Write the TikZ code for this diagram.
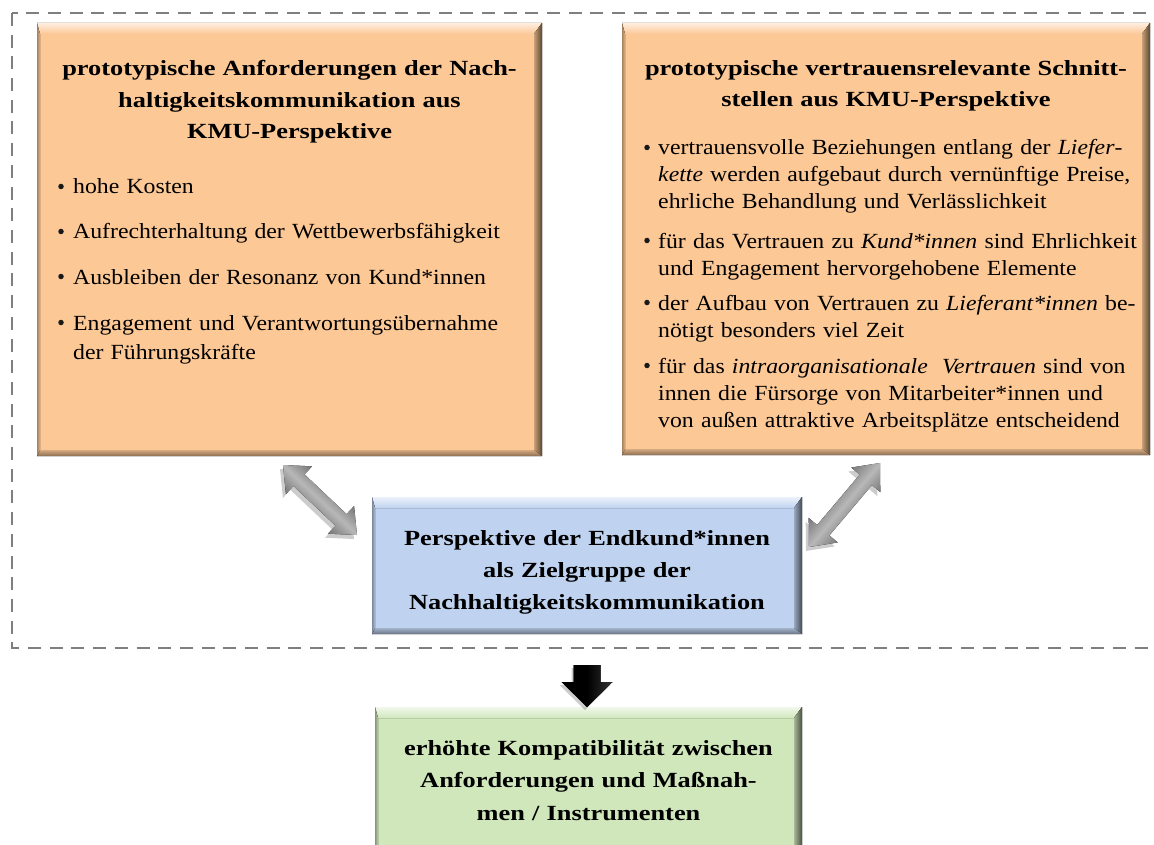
\documentclass[tikz,border=0pt]{standalone}
\usepackage{fontspec}
\setmainfont{Liberation Serif}
\newfontfamily\rfont{Liberation Serif}[FakeStretch=1.1]
\newfontfamily\tfont{Liberation Serif}[FakeStretch=1.22]
\usetikzlibrary{calc}
\definecolor{bor}{HTML}{FCC896}
\definecolor{bbl}{HTML}{BFD3F0}
\definecolor{bgr}{HTML}{D0E7BC}
\definecolor{dashgray}{HTML}{7F7F7F}
\tikzset{
  boxnode/.style={inner sep=0pt, outer sep=0pt, draw=none},
  ttl/.style={font=\tfont\bfseries\fontsize{21.6}{31.5}\selectfont, align=center, inner sep=0pt, anchor=base},
  itm/.style={font=\rfont\fontsize{21.6}{27}\selectfont, align=left, inner sep=0pt, anchor=base west},
  bul/.style={circle, fill=black!90, inner sep=0pt, minimum size=5.5pt},
  grayarrow/.style={top color=black!78, bottom color=black!78, middle color=black!28, shading angle=#1},
}
\newcommand\bevelbox[2]{%
  \fill[top color=#2!30!white, bottom color=#2] (#1.north west) -- (#1.north east) -- ([shift={(-8,11)}]#1.north east) -- ([shift={(3,11)}]#1.north west) -- cycle;
  \fill[left color=#2!80!black, right color=#2!35!black] (#1.north east) -- (#1.south east) -- ([shift={(-8,-6)}]#1.south east) -- ([shift={(-8,11)}]#1.north east) -- cycle;
  \fill[top color=#2!85!black, bottom color=#2!55!black] ([shift={(3,-6)}]#1.south west) -- ([shift={(-8,-6)}]#1.south east) -- (#1.south east) -- (#1.south west) -- cycle;
  \fill[left color=#2!65!black, right color=#2!90!black] (#1.north west) -- ([shift={(3,11)}]#1.north west) -- ([shift={(3,-6)}]#1.south west) -- (#1.south west) -- cycle;
}
\newcommand\dblpath[2]{(#1) -- ($(#1)!22pt!(#2)!19pt!90:(#2)$) -- ($(#1)!22pt!(#2)!8pt!90:(#2)$) -- ($(#2)!22pt!(#1)!8pt!-90:(#1)$) -- ($(#2)!22pt!(#1)!19pt!-90:(#1)$) -- (#2) -- ($(#2)!22pt!(#1)!19pt!90:(#1)$) -- ($(#2)!22pt!(#1)!8pt!90:(#1)$) -- ($(#1)!22pt!(#2)!8pt!-90:(#2)$) -- ($(#1)!22pt!(#2)!19pt!-90:(#2)$) -- cycle}
\newcommand\dblarrow[3]{%
  \fill[black, opacity=0.2, transform canvas={xshift=-3pt, yshift=-4pt}] \dblpath{#1}{#2};
  \fill[grayarrow=#3] \dblpath{#1}{#2};
}
\begin{document}
\begin{tikzpicture}[x=1pt,y=-1pt]
\clip (0,0) rectangle (1154,845);
\fill[white] (0,0) rectangle (1154,845);
\draw[dashgray, line width=2.6pt, dash pattern=on 13pt off 8.7pt] (12,13) rectangle (1170,648);

% boxes
\node[boxnode, fill=bor, minimum width=505pt, minimum height=433pt] (L) at (289.5,239.5) {};
\node[boxnode, fill=bor, minimum width=528pt, minimum height=432pt] (R) at (886,239) {};
\node[boxnode, fill=bbl, minimum width=430pt, minimum height=137pt] (B) at (587,565.5) {};
\node[boxnode, fill=bgr, minimum width=427pt, minimum height=153pt] (G) at (588.5,783.5) {};
\bevelbox{L}{bor}
\bevelbox{R}{bor}
\bevelbox{B}{bbl}
\bevelbox{G}{bgr}

% left box text
\node[ttl, text width=505pt] (Lt) at (289.5,76) {prototypische Anforderungen der Nach-\\haltigkeitskommunikation aus\\KMU-Perspektive};
\node[bul] (Lb1) at (61,186.5) {};
\node[itm, text width=460pt] (Li1) at (73,194) {hohe Kosten};
\node[bul] (Lb2) at (61,231.5) {};
\node[itm, text width=460pt] (Li2) at (73,239) {Aufrechterhaltung der Wettbewerbsfähigkeit};
\node[bul] (Lb3) at (61,276.5) {};
\node[itm, text width=460pt] (Li3) at (73,284) {Ausbleiben der Resonanz von Kund*innen};
\node[bul] (Lb4) at (61,322.5) {};
\node[itm, text width=460pt, font=\rfont\fontsize{21.6}{29}\selectfont] (Li4) at (73,330) {Engagement und Verantwortungsübernahme\\der Führungskräfte};

% right box text
\node[ttl, text width=528pt, font=\tfont\bfseries\fontsize{21.6}{30.5}\selectfont] (Rt) at (886,76) {prototypische vertrauensrelevante Schnitt-\\stellen aus KMU-Perspektive};
\node[bul] (Rb1) at (647,147.5) {};
\node[itm, text width=490pt] (Ri1) at (658,155) {vertrauensvolle Beziehungen entlang der \textit{Liefer}-\\\textit{kette} werden aufgebaut durch vernünftige Preise,\\ehrliche Behandlung und Verlässlichkeit};
\node[bul] (Rb2) at (647,240.5) {};
\node[itm, text width=490pt] (Ri2) at (658,248) {für das Vertrauen zu \textit{Kund*innen} sind Ehrlichkeit\\und Engagement hervorgehobene Elemente};
\node[bul] (Rb3) at (647,302.5) {};
\node[itm, text width=490pt] (Ri3) at (658,310) {der Aufbau von Vertrauen zu \textit{Lieferant*innen} be-\\nötigt besonders viel Zeit};
\node[bul] (Rb4) at (647,365.5) {};
\node[itm, text width=490pt] (Ri4) at (658,373) {für das \textit{intraorganisationale\ \ Vertrauen} sind von\\innen die Fürsorge von Mitarbeiter*innen und\\von außen attraktive Arbeitsplätze entscheidend};

% blue and green text
\node[ttl, text width=430pt, font=\tfont\bfseries\fontsize{21.6}{32}\selectfont] (Bt) at (587,545) {Perspektive der Endkund*innen\\als Zielgruppe der\\Nachhaltigkeitskommunikation};
\node[ttl, text width=427pt, font=\tfont\bfseries\fontsize{21.6}{32.5}\selectfont] (Gt) at (588.5,755) {erhöhte Kompatibilität zwischen\\Anforderungen und Maßnah-\\men / Instrumenten};

% gray double arrows
\coordinate (la1) at (283,465);
\coordinate (la2) at (357,535);
\coordinate (ra1) at (809,547);
\coordinate (ra2) at (880,463);
\dblarrow{la1}{la2}{-43}
\dblarrow{ra1}{ra2}{50}

% black down arrow
\coordinate (da1) at (587,665);
\coordinate (da2) at (587,707);
\fill[black, opacity=0.2, transform canvas={xshift=-2pt, yshift=-3pt}] ([xshift=-13.5pt]da1) -- ([xshift=13.5pt]da1) -- ([shift={(13.5,-25)}]da2) -- ([shift={(25.5,-25)}]da2) -- (da2) -- ([shift={(-25.5,-25)}]da2) -- ([shift={(-13.5,-25)}]da2) -- cycle;
\fill[left color=black, right color=black!80, middle color=black] ([xshift=-13.5pt]da1) -- ([xshift=13.5pt]da1) -- ([shift={(13.5,-25)}]da2) -- ([shift={(25.5,-25)}]da2) -- (da2) -- ([shift={(-25.5,-25)}]da2) -- ([shift={(-13.5,-25)}]da2) -- cycle;
\end{tikzpicture}
\end{document}
